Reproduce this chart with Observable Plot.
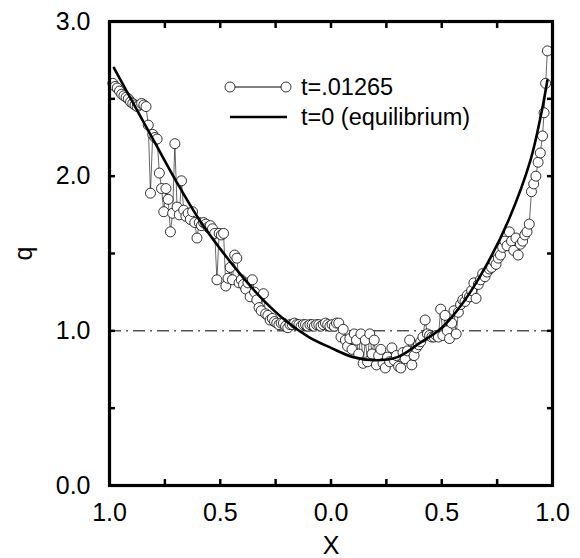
<!DOCTYPE html>
<html>
<head>
<meta charset="utf-8">
<script src="https://cdn.jsdelivr.net/npm/d3@7"></script>
<script src="https://cdn.jsdelivr.net/npm/@observablehq/plot@0.6"></script>
<style>
  html, body { margin: 0; padding: 0; background: #fff; }
  #wrap { position: relative; width: 580px; height: 558px; font-family: "Liberation Sans", Arial, Helvetica, sans-serif; }
  #legend { position: absolute; left: 0; top: 0; pointer-events: none; }
</style>
</head>
<body>
<div id="wrap"></div>
<script>
// ---- data ----
const simX = [-0.985,-0.975,-0.965,-0.955,-0.945,-0.935,-0.925,-0.915,-0.905,-0.895,-0.885,-0.875,-0.865,-0.855,-0.845,-0.835,-0.825,-0.815,-0.805,-0.795,-0.785,-0.775,-0.765,-0.755,-0.745,-0.735,-0.725,-0.715,-0.705,-0.695,-0.685,-0.675,-0.665,-0.655,-0.645,-0.635,-0.625,-0.615,-0.605,-0.595,-0.585,-0.575,-0.565,-0.555,-0.545,-0.535,-0.525,-0.515,-0.505,-0.495,-0.485,-0.475,-0.465,-0.455,-0.445,-0.435,-0.425,-0.415,-0.405,-0.395,-0.385,-0.375,-0.365,-0.355,-0.345,-0.335,-0.325,-0.315,-0.305,-0.295,-0.285,-0.275,-0.265,-0.255,-0.245,-0.235,-0.225,-0.215,-0.205,-0.195,-0.185,-0.175,-0.165,-0.155,-0.145,-0.135,-0.125,-0.115,-0.105,-0.095,-0.085,-0.075,-0.065,-0.055,-0.045,-0.035,-0.025,-0.015,-0.005,0.005,0.015,0.025,0.035,0.045,0.055,0.065,0.075,0.085,0.095,0.105,0.115,0.125,0.135,0.145,0.155,0.165,0.175,0.185,0.195,0.205,0.215,0.225,0.235,0.245,0.255,0.265,0.275,0.285,0.295,0.305,0.315,0.325,0.335,0.345,0.355,0.365,0.375,0.385,0.395,0.405,0.415,0.425,0.435,0.445,0.455,0.465,0.475,0.485,0.495,0.505,0.515,0.525,0.535,0.545,0.555,0.565,0.575,0.585,0.595,0.605,0.615,0.625,0.635,0.645,0.655,0.665,0.675,0.685,0.695,0.705,0.715,0.725,0.735,0.745,0.755,0.765,0.775,0.785,0.795,0.805,0.815,0.825,0.835,0.845,0.855,0.865,0.875,0.885,0.895,0.905,0.915,0.925,0.935,0.945,0.955,0.962,0.969,0.977];
const simQ = [2.60,2.58,2.57,2.55,2.53,2.52,2.51,2.50,2.48,2.47,2.46,2.45,2.46,2.47,2.46,2.45,2.33,1.89,2.27,2.25,2.24,2.02,1.92,1.77,1.92,1.85,1.64,1.76,2.21,1.80,1.75,1.97,1.78,1.74,1.76,1.72,1.77,1.70,1.60,1.70,1.68,1.70,1.69,1.67,1.68,1.66,1.63,1.33,1.63,1.62,1.63,1.29,1.34,1.41,1.33,1.49,1.47,1.31,1.33,1.30,1.27,1.31,1.22,1.33,1.25,1.20,1.15,1.13,1.24,1.11,1.10,1.07,1.08,1.06,1.05,1.04,1.05,1.05,1.03,1.02,1.04,1.04,1.05,1.04,1.04,1.03,1.04,1.04,1.03,1.04,1.04,1.03,1.04,1.04,1.03,1.04,1.05,1.04,1.03,1.04,1.03,1.05,1.05,0.96,1.01,0.94,0.90,0.95,0.88,0.98,0.94,0.85,0.98,0.79,0.94,0.80,0.98,0.85,0.94,0.78,0.84,0.88,0.79,0.76,0.83,0.80,0.89,0.81,0.84,0.77,0.76,0.86,0.82,0.87,0.94,0.78,0.84,0.89,0.91,0.93,0.96,1.07,0.98,0.97,0.96,0.96,0.97,0.96,1.14,0.97,1.10,1.00,0.95,1.05,1.13,0.98,1.12,1.17,1.20,1.19,1.23,1.22,1.26,1.31,1.21,1.30,1.33,1.37,1.35,1.38,1.40,1.41,1.45,1.43,1.47,1.49,1.54,1.58,1.55,1.64,1.58,1.52,1.60,1.49,1.56,1.58,1.62,1.64,1.69,1.90,1.95,2.00,2.09,2.15,2.26,2.41,2.60,2.81];

const eqX = [-0.98,-0.9,-0.8,-0.7,-0.6,-0.5,-0.4,-0.3,-0.2,-0.1,0.0,0.1,0.2,0.3,0.4,0.5,0.6,0.7,0.8,0.9,0.95,0.977];
const eqQ = [2.70,2.49,2.23,1.97,1.73,1.53,1.35,1.19,1.06,0.96,0.89,0.83,0.81,0.83,0.92,1.02,1.19,1.42,1.71,2.10,2.41,2.62];

const equilibriumLevel = [1];
const xTickLabels = [-1, -0.5, 0, 0.5, 1];
const xMinorTicks = [-1, -0.75, -0.5, -0.25, 0, 0.25, 0.5, 0.75, 1];
const yTickLabels = [0, 1, 2, 3];
const yMinorTicks = [0, 0.5, 1, 1.5, 2, 2.5, 3];
const seriesNames = ["t=.01265", "t=0 (equilibrium)"];

const sim = simX.map((x, i) => ({x, q: simQ[i]}));
const eq = eqX.map((x, i) => ({x, q: eqQ[i]}));

const W = 580, H = 558, TL = 6;
const noLabel = () => "";
const chart = Plot.plot({
  width: W, height: H,
  marginLeft: 109, marginRight: 28, marginTop: 21, marginBottom: 73,
  style: {fontFamily: "'Liberation Sans', Arial, Helvetica, sans-serif", fontSize: "25px", color: "#000", background: "#fff"},
  x: {domain: [-1, 1]},
  y: {domain: [0, 3]},
  marks: [
    Plot.ruleY(equilibriumLevel, {stroke: "#000", strokeWidth: 1, strokeDasharray: "12,5,2,5"}),
    Plot.line(sim, {x: "x", y: "q", stroke: "#000", strokeWidth: 0.6}),
    Plot.dot(sim, {x: "x", y: "q", r: 5, fill: "#fff", stroke: "#000", strokeWidth: 0.8}),
    Plot.line(eq, {x: "x", y: "q", stroke: "#000", strokeWidth: 2.6, curve: "catmull-rom"}),
    // inward ticks
    Plot.axisX({anchor: "bottom", ticks: xMinorTicks, tickSize: TL, dy: -TL, strokeWidth: 2.5, tickFormat: noLabel, label: null}),
    Plot.axisX({anchor: "top", ticks: xMinorTicks, tickSize: TL, dy: TL, strokeWidth: 2.5, tickFormat: noLabel, label: null}),
    Plot.axisY({anchor: "left", ticks: yMinorTicks, tickSize: TL, dx: TL, strokeWidth: 2.5, tickFormat: noLabel, label: null}),
    Plot.axisY({anchor: "right", ticks: yMinorTicks, tickSize: TL, dx: -TL, strokeWidth: 2.5, tickFormat: noLabel, label: null}),
    // labels
    Plot.axisX({anchor: "bottom", ticks: xTickLabels, tickSize: 0, tickPadding: 18, tickFormat: d => Math.abs(d).toFixed(1),
      label: "X", labelAnchor: "center", labelArrow: "none", labelOffset: 68}),
    Plot.axisY({anchor: "left", ticks: yTickLabels, tickSize: 0, tickPadding: 19, tickFormat: d => d.toFixed(1),
      label: "q", labelAnchor: "center", labelArrow: "none", labelOffset: 95}),
    Plot.frame({stroke: "#000", strokeWidth: 3.2})
  ]
});

const wrap = document.getElementById("wrap");
wrap.appendChild(chart);

// legend overlay
const ns = "http://www.w3.org/2000/svg";
const leg = document.createElementNS(ns, "svg");
leg.setAttribute("id", "legend");
leg.setAttribute("width", W); leg.setAttribute("height", H);
function el(name, attrs, parent) {
  const e = document.createElementNS(ns, name);
  for (const k in attrs) e.setAttribute(k, attrs[k]);
  parent.appendChild(e); return e;
}
const lx0 = 230, lx1 = 286, ly0 = 87, ly1 = 117, tx = 301;
el("line", {x1: lx0, x2: lx1, y1: ly0, y2: ly0, stroke: "#000", "stroke-width": 1}, leg);
el("circle", {cx: lx0, cy: ly0, r: 5, fill: "#fff", stroke: "#000", "stroke-width": 0.8}, leg);
el("circle", {cx: lx1, cy: ly0, r: 5, fill: "#fff", stroke: "#000", "stroke-width": 0.8}, leg);
el("line", {x1: lx0, x2: lx1 + 1, y1: ly1, y2: ly1, stroke: "#000", "stroke-width": 2.6}, leg);
const t1 = el("text", {x: tx, y: ly0, "dominant-baseline": "central", "font-size": 23.5, "font-family": "'Liberation Sans', Arial, sans-serif"}, leg);
t1.textContent = seriesNames[0];
const t2 = el("text", {x: tx, y: ly1, "dominant-baseline": "central", "font-size": 23.5, "font-family": "'Liberation Sans', Arial, sans-serif"}, leg);
t2.textContent = seriesNames[1];
wrap.appendChild(leg);
</script>
</body>
</html>
